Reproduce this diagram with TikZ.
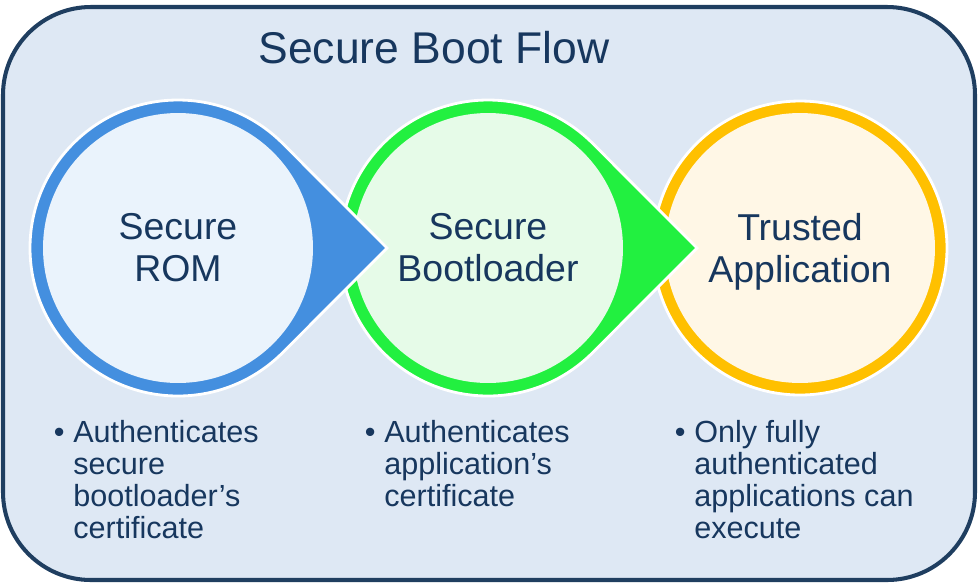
\documentclass[tikz,border=0pt]{standalone}
\usepackage{fontspec}
\setmainfont{Liberation Sans}

\definecolor{frameline}{HTML}{1F3E60}
\definecolor{framefill}{HTML}{DEE8F4}
\definecolor{navy}{HTML}{17375E}
\definecolor{bluering}{HTML}{448FDF}
\definecolor{bluefill}{HTML}{EAF3FC}
\definecolor{greenring}{HTML}{22F040}
\definecolor{greenfill}{HTML}{E6FBE8}
\definecolor{orangering}{HTML}{FFC000}
\definecolor{orangefill}{HTML}{FFF7E6}

\tikzset{
	ring/.style={draw=white, line width=1.6pt},
	disc/.style={circle, inner sep=0pt, minimum size=5.4cm, align=center, text=navy, font=\fontsize{21.3}{24}\selectfont},
	note/.style={anchor=north west, inner sep=0pt, align=left, text=navy, font=\fontsize{17.4}{18.3}\selectfont}
}

\begin{document}
\begin{tikzpicture}[x=0.02cm, y=-0.02cm]
			\useasboundingbox (0,0) rectangle (978,583);
			\draw [frameline, fill=framefill, line width=2.3pt, rounded corners=1.76cm] (3,7) rectangle (975,580);
			\node [anchor=base, text=navy, font=\fontsize{25.3}{28}\selectfont] (title) at (434,63) {Secure Boot Flow};
			% last stage
			\draw [ring, fill=orangering] (800,248) circle [radius=147];
			\node [disc, fill=orangefill] (app) at (800,248) {Trusted\\\smash{Application}};
			% second stage
			\draw [ring, fill=greenring] (488,248) ++(45:148) arc [start angle=45, end angle=315, radius=148] -- (697,248) -- cycle;
			\node [disc, fill=greenfill] (boot) at (488,248) {Secure\\Bootloader};
			% first stage
			\draw [ring, fill=bluering] (178,248) ++(45:148) arc [start angle=45, end angle=315, radius=148] -- (387,248) -- cycle;
			\node [disc, fill=bluefill] (rom) at (178,248) {Secure\\ROM};
			% notes
			\node [note] (romnote) at (73,420) {\llap{•\hspace{5pt}}Authenticates\\secure\\bootloader's\\certificate};
			\node [note] (bootnote) at (384,420) {\llap{•\hspace{5pt}}Authenticates\\application's\\certificate};
			\node [note] (appnote) at (694,420) {\llap{•\hspace{5pt}}Only fully\\authenticated\\applications can\\execute};
\end{tikzpicture}
\end{document}
